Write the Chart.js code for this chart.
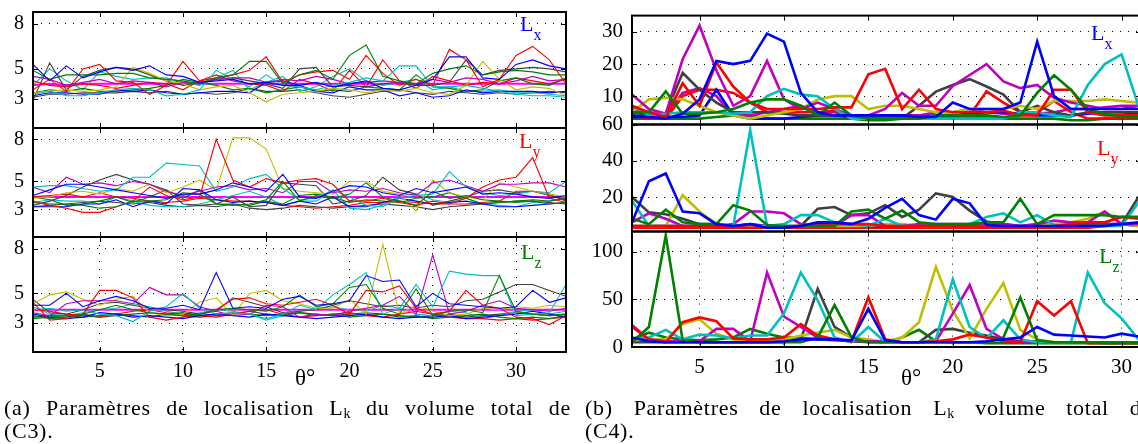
<!DOCTYPE html>
<html>
<head>
<meta charset="utf-8">
<script src="https://cdn.jsdelivr.net/npm/chart.js@4.4.1/dist/chart.umd.min.js"></script>
<style>
  html, body { margin: 0; padding: 0; }
  body { width: 1138px; height: 444px; overflow: hidden; position: relative; background: #fff; font-family: "Liberation Serif", "Times New Roman", Times, "DejaVu Serif", serif; color: #000; }
  canvas { position: absolute; left: 0; top: 0; }
  .lab { position: absolute; line-height: 1; white-space: nowrap; }
  .lab .L { font-size: 22px; }
  .lab .s { font-size: 16px; position: relative; top: 9px; }
  .theta { position: absolute; font-size: 23px; line-height: 1; }
  .cap { position: absolute; font-size: 22px; letter-spacing: 0.7px; line-height: 23px; width: 567px; text-align: justify; text-align-last: justify; }
  .cap2 { position: absolute; font-size: 22px; letter-spacing: 0.7px; line-height: 23px; }
  .cap sub { font-size: 14px; vertical-align: -3px; line-height: 0; letter-spacing: 0; }
</style>
</head>
<body>
<canvas id="c3x"></canvas>
<canvas id="c3y"></canvas>
<canvas id="c3z"></canvas>
<canvas id="c4x"></canvas>
<canvas id="c4y"></canvas>
<canvas id="c4z"></canvas>

<div class="lab" style="left:520px;top:13px;color:#0000ff"><span class="L">L</span><span class="s">x</span></div>
<div class="lab" style="left:519px;top:130px;color:#ff0000"><span class="L">L</span><span class="s">y</span></div>
<div class="lab" style="left:521px;top:241px;color:#008000"><span class="L">L</span><span class="s">z</span></div>
<div class="lab" style="left:1091px;top:22px;color:#0000ff"><span class="L">L</span><span class="s">x</span></div>
<div class="lab" style="left:1097px;top:137px;color:#ff0000"><span class="L">L</span><span class="s">y</span></div>
<div class="lab" style="left:1099px;top:245px;color:#008000"><span class="L">L</span><span class="s">z</span></div>

<div class="theta" style="left:295px;top:366px">θ°</div>
<div class="theta" style="left:901px;top:366px">θ°</div>

<div class="cap" style="left:4px;top:396px">(a) Paramètres de localisation L<sub>k</sub> du volume total de</div>
<div class="cap2" style="left:4px;top:419px">(C3).</div>
<div class="cap" style="left:585px;top:396px">(b) Paramètres de localisation L<sub>k</sub> volume total de</div>
<div class="cap2" style="left:585px;top:419px">(C4).</div>

<script>
// θ positions (degrees) and tick values
const thetaC3 = [1,2,3,4,5,6,7,8,9,10,11,12,13,14,15,16,17,18,19,20,21,22,23,24,25,26,27,28,29,30,31,32,33];
const thetaC4 = [1,2,3,4,5,6,7,8,9,10,11,12,13,14,15,16,17,18,19,20,21,22,23,24,25,26,27,28,29,30,31,32];
const xTicks = [5, 10, 15, 20, 25, 30];
const yTicksC3 = [3, 5, 8];
const yTicksC4x = [10, 20, 30];
const yTicksC4y = [20, 40, 60];
const yTicksC4z = [0, 50, 100];

// (C3) L_x — one row per curve
const c3Lx = [
  [5.3,4.2,5.2,4.4,4.8,5.1,4.9,5.2,4.6,4.5,4.1,4.2,4.3,4.0,4.1,3.9,3.9,4.1,3.8,4.0,4.2,3.7,3.6,3.9,4.3,5.8,5.8,4.4,4.3,5.3,5.6,5.2,5.0],
  [4.9,4.3,4.6,4.6,4.6,4.7,4.7,4.4,4.3,4.2,4.0,4.4,4.6,5.5,5.5,4.0,4.6,4.9,4.3,5.9,6.6,4.5,4.2,4.0,4.7,5.0,5.2,4.6,4.8,4.9,4.8,4.6,4.6],
  [3.6,4.3,3.5,5.0,5.3,4.2,4.1,3.3,3.9,5.5,4.2,4.4,4.6,4.9,5.8,4.1,4.6,4.8,4.9,4.3,5.9,4.7,3.9,4.3,3.9,6.3,5.6,3.8,4.3,5.9,6.5,5.6,4.0],
  [3.3,3.5,3.2,3.2,3.4,3.6,3.7,3.6,3.2,3.3,3.6,4.9,4.3,3.8,4.6,3.9,3.8,3.6,3.9,4.1,4.4,4.2,5.2,5.2,3.8,3.8,3.9,3.7,3.5,3.3,3.2,3.2,3.1],
  [4.5,4.3,3.9,4.1,4.3,4.0,4.2,4.1,3.8,4.1,4.0,4.3,4.4,4.4,4.1,4.3,4.2,4.5,4.3,4.0,4.1,4.2,4.1,4.0,4.3,4.1,4.4,4.3,4.0,4.2,4.5,4.2,4.3],
  [3.4,3.5,3.6,3.5,3.6,3.8,5.1,4.7,4.2,4.0,3.6,3.8,3.9,3.4,2.8,3.3,3.4,3.5,3.7,3.6,3.4,3.6,3.5,3.7,3.4,3.3,3.9,5.5,4.3,3.6,3.8,3.7,3.2],
  [2.9,5.4,3.6,4.5,4.9,5.1,5.0,4.6,4.2,3.9,4.1,4.3,4.4,4.2,4.0,3.7,5.0,5.1,3.8,3.9,3.8,4.0,4.1,3.9,3.9,4.1,5.6,4.6,4.9,5.0,5.1,5.0,4.8],
  [3.2,3.4,3.4,3.3,3.3,3.6,3.5,3.6,3.4,3.3,3.4,3.5,3.5,3.4,4.1,4.2,3.9,3.5,3.4,3.8,3.6,3.6,3.2,3.4,3.1,3.2,3.6,3.4,3.5,3.5,3.5,3.4,3.5],
  [3.4,3.6,3.5,3.7,3.5,3.5,3.6,3.7,3.9,4.3,4.1,3.9,3.6,3.7,3.4,3.6,3.8,3.5,3.6,3.5,3.8,3.7,3.6,4.6,3.8,3.7,3.5,3.6,4.2,4.4,4.0,3.9,4.4],
  [4.2,3.9,3.8,4.0,3.9,3.7,3.9,4.1,4.0,3.6,4.2,4.6,4.2,4.0,3.9,3.5,4.3,4.0,3.5,4.9,3.8,5.6,4.2,3.7,4.5,4.2,3.9,4.1,4.0,4.4,4.2,4.0,4.3],
  [3.9,5.0,4.2,3.6,4.8,4.5,4.3,4.4,4.4,4.1,3.9,4.4,4.9,3.6,4.1,4.5,3.5,3.8,4.5,5.0,4.2,3.9,4.1,4.3,3.6,3.8,3.5,3.5,3.6,3.4,3.4,3.3,3.2],
  [3.1,3.3,3.3,3.4,3.4,3.4,3.5,3.4,3.5,3.3,3.4,3.3,3.4,3.7,3.5,3.5,3.6,3.4,3.2,3.1,3.3,3.5,3.6,3.4,3.3,3.5,3.4,3.3,3.4,3.3,3.4,3.5,3.4]
];
const c3LxMean = [3.9,4.0,3.9,4.0,4.0,4.0,4.0,4.0,4.0,4.0,4.0,4.0,4.0,4.0,4.0,4.0,4.0,4.0,4.0,4.0,4.0,4.0,4.0,4.0,4.0,4.0,4.0,4.0,4.0,4.0,4.0,4.0,4.0];

// (C3) L_y
const c3Ly = [
  [4.0,4.4,4.8,4.8,4.6,4.4,4.2,4.0,3.8,4.1,4.1,4.4,4.9,4.6,4.3,5.5,3.9,3.8,4.3,4.7,4.6,4.2,4.0,4.5,4.2,4.4,4.6,4.1,4.2,4.1,3.9,3.8,4.0],
  [3.5,3.4,3.4,3.3,3.1,3.2,3.6,3.6,3.7,4.2,4.1,3.4,3.3,3.4,3.7,5.0,3.6,4.0,3.8,4.1,4.9,3.9,3.6,3.3,4.3,3.8,4.0,3.7,3.6,3.5,3.6,3.4,3.5],
  [3.6,3.3,3.1,2.8,2.8,3.2,3.6,4.6,4.0,3.7,3.9,8.0,5.1,4.6,5.2,4.9,5.1,5.2,4.8,3.6,3.6,3.8,3.5,3.3,3.6,3.4,3.8,4.6,5.1,5.3,6.7,3.8,3.5],
  [4.6,4.7,4.7,4.5,4.3,4.4,5.3,5.3,6.3,6.2,6.1,4.3,4.6,5.2,5.5,4.5,3.7,3.8,4.4,3.9,3.3,3.2,3.8,4.0,4.1,5.7,4.6,4.2,4.0,4.1,4.3,4.2,5.0],
  [4.6,4.2,5.3,4.8,4.9,4.7,5.0,4.8,4.3,4.0,4.3,4.6,4.7,4.4,4.5,4.2,5.0,5.0,4.2,4.4,4.3,4.5,4.2,4.0,4.9,5.1,4.7,4.3,4.8,4.8,4.9,4.9,4.6],
  [3.8,3.9,4.2,4.3,4.1,4.5,4.3,4.8,4.2,4.6,5.1,4.4,8.1,8.1,7.3,4.5,4.3,4.2,4.1,5.0,5.0,4.3,4.1,2.9,5.1,4.2,3.9,3.7,4.9,4.6,4.3,4.1,3.9],
  [3.3,3.6,4.0,4.6,5.1,5.5,5.1,4.8,4.4,3.4,3.3,3.4,3.9,3.2,3.3,4.9,4.8,4.7,3.4,3.6,4.0,5.3,4.4,4.1,3.3,3.6,3.9,4.3,4.4,4.2,4.3,4.0,3.7],
  [3.2,3.2,3.2,3.4,3.4,3.7,3.2,3.6,3.4,4.5,4.4,3.7,3.5,3.6,3.5,3.3,3.6,3.4,3.9,3.2,3.2,3.5,3.8,3.6,3.4,3.5,3.6,3.4,3.2,3.2,3.3,3.4,3.5],
  [3.9,3.7,3.3,3.4,3.6,3.9,3.5,3.9,4.4,3.8,4.4,3.4,3.4,3.3,3.6,3.4,4.0,4.1,3.9,3.5,3.7,3.6,3.5,3.8,3.9,4.2,3.8,3.4,3.5,3.6,3.7,3.6,3.8],
  [3.9,4.0,4.1,3.9,4.2,3.9,3.8,3.6,3.5,3.6,3.8,3.7,3.6,3.6,3.5,3.3,3.2,3.1,3.2,3.3,3.5,3.5,3.6,3.5,3.4,3.4,3.4,3.5,3.6,4.3,4.3,4.1,3.6],
  [3.5,3.7,3.6,3.6,3.4,3.9,3.6,3.3,3.2,3.2,3.4,3.7,4.0,4.3,3.9,3.3,3.6,3.6,4.4,3.1,3.0,3.3,4.0,4.1,3.7,3.5,3.8,3.4,3.3,3.2,3.5,3.6,3.9],
  [3.2,3.3,3.4,3.5,3.6,3.5,3.4,3.5,3.3,3.2,3.3,3.2,3.4,3.1,3.0,3.1,3.3,3.2,3.1,3.2,3.3,3.4,3.3,3.2,3.0,3.2,3.3,3.4,3.5,3.6,3.6,3.5,3.4]
];
const c3LyMean = [3.9,3.9,3.9,3.9,3.9,3.9,3.9,3.9,3.9,3.9,3.9,3.9,3.9,3.9,3.9,3.9,3.9,3.9,3.9,3.9,3.9,3.9,3.9,3.9,3.9,3.9,3.9,3.9,3.9,3.9,3.9,3.9,3.9];

// (C3) L_z
const c3Lz = [
  [4.2,4.2,5.0,4.1,4.5,4.8,4.5,4.0,4.0,4.2,3.9,6.4,4.0,4.1,4.0,4.6,4.8,4.2,4.3,4.5,6.2,5.8,5.9,4.1,5.0,4.3,4.2,4.1,4.0,4.1,5.2,4.4,4.7],
  [3.5,3.3,3.4,3.6,3.9,4.2,3.9,3.7,3.6,3.5,3.6,3.9,4.0,3.9,3.8,4.1,4.9,4.1,4.3,5.4,5.6,4.0,3.6,5.3,3.5,3.8,3.9,3.7,6.2,3.8,3.6,3.5,3.6],
  [4.4,3.2,3.3,3.6,5.2,5.2,4.7,3.4,3.2,3.4,3.6,3.9,4.6,4.7,4.3,4.2,4.4,4.6,4.2,3.6,5.2,5.1,5.5,4.0,3.6,3.8,5.2,4.2,4.0,3.4,3.3,2.9,3.5],
  [3.9,4.0,3.8,3.9,3.6,3.5,3.1,3.8,4.1,5.0,4.0,3.6,3.7,3.6,3.3,3.6,4.2,3.9,4.9,5.6,6.4,3.6,4.0,5.6,4.1,6.5,6.3,6.2,6.2,3.5,3.6,3.7,5.6],
  [3.7,3.5,4.3,4.5,4.5,4.5,4.3,5.4,4.9,4.9,4.1,3.8,3.5,3.6,4.2,4.1,3.4,3.6,3.5,3.8,4.0,4.2,4.8,3.6,7.6,3.6,3.8,4.2,4.5,4.0,3.9,3.8,4.0],
  [4.3,4.9,5.1,4.6,4.2,4.6,4.8,3.7,3.5,3.6,4.4,4.7,3.5,5.0,5.2,4.5,4.3,4.0,4.0,4.6,3.6,8.3,3.6,4.2,3.8,3.5,3.6,4.0,3.9,4.1,4.0,4.2,4.1],
  [4.6,3.7,3.6,3.9,4.3,4.4,4.2,4.0,3.9,3.8,3.6,3.8,4.7,4.4,4.1,3.7,3.8,3.9,4.2,4.5,4.3,4.1,4.2,4.0,4.2,4.1,4.5,4.6,5.1,5.6,5.6,5.2,4.8],
  [3.6,3.4,3.3,3.4,3.7,3.6,3.4,3.5,3.4,3.3,3.5,3.6,3.5,3.4,3.6,3.5,3.4,3.3,3.4,3.5,3.6,3.4,3.3,3.4,3.4,3.5,3.3,3.4,3.5,3.6,3.8,3.6,3.4],
  [3.3,3.4,3.5,3.4,3.5,3.6,3.5,3.4,3.6,3.7,3.5,3.6,3.7,3.6,3.5,3.6,3.7,3.5,3.6,3.4,3.5,3.6,3.4,3.5,3.3,3.4,3.5,3.6,3.4,3.3,3.4,3.3,3.5],
  [3.9,3.8,3.6,3.5,3.4,3.6,3.8,3.9,3.7,3.6,3.5,3.4,3.6,3.8,3.9,3.6,3.4,3.5,3.6,3.7,3.5,3.4,3.6,3.8,3.6,3.4,3.3,3.3,3.2,3.3,3.2,3.3,3.4],
  [4.1,3.6,3.5,3.7,3.9,4.0,4.3,4.1,3.8,3.6,3.7,3.9,3.8,3.6,3.2,3.5,3.8,4.0,4.1,3.9,3.8,4.2,4.0,3.6,3.5,3.8,3.7,3.3,3.5,3.8,3.9,3.6,3.8],
  [3.4,3.5,3.5,3.6,3.4,3.5,3.6,3.7,3.6,3.5,3.4,3.5,3.6,3.8,3.6,3.5,3.7,3.6,3.5,3.6,3.7,3.6,3.5,3.4,3.5,3.6,3.4,3.5,3.6,3.7,3.6,3.5,3.6]
];
const c3LzMean = [3.9,3.9,3.9,3.9,3.9,3.9,3.9,3.9,3.9,3.9,3.9,3.9,3.9,3.9,3.9,3.9,3.9,3.9,3.9,3.9,3.9,3.9,3.9,3.9,3.9,3.9,3.9,3.9,3.9,3.9,3.9,3.9,3.9];

// (C4) L_x
const c4Lx = [
  [3.5,3.5,3.0,4.5,9,21,20,21,29.5,27,11,5,4,4,4,4,4,3.5,3.5,8,6,6,6,8,27,10,6,6,6,6,6,5],
  [5,5,11.5,4.5,4.5,5,6,8,9,9,7,4,8,4,3,3,3,3,4,4,4,4,3.5,4,11,16.5,12,6,4.5,3.5,3.5,4],
  [7,5,3.5,14,7,20.5,13,8,6,6,6,6,6.5,6.5,16.8,18.5,6,12,6,5,5,5,5.5,4,4,12,12,5,4,4,4,6],
  [7,4,4.5,5,5,5,4.5,5,10,12.3,10.5,10,6,3,3,3,3,3,3,3,3,3,3,5,5,4,3.5,13.5,20,23,7,5],
  [10.5,6,4.5,21.5,32,18,7,10,21,9,6,8,6,4,4,6,11,7,7,13.2,16.6,20,14.6,12.5,13.5,9.5,8,7,6,6,7,9],
  [5,9,9.5,9,7,5,4,3,4,5,6,9,10,10,6,7,7,6,5,5,6,6,6,7,6,8.5,8.5,8.5,9,8.5,8,8],
  [5,4,4.5,17.3,12,8,5,5,5,4.5,4,4,4,4,4,3.5,3,7,11.4,13.5,15.3,13,10.5,5,7,5,4,5,5,5,5,5],
  [4,3.5,3.5,3.5,4,12,4,3,3,3,3.5,4,4,3.5,3.5,3.5,3.5,3.5,4,4,4.5,5,5,4.5,4,4,4,4.5,5,5,4.5,4],
  [4,3,3,10,12,12,11,8,5,5,5,5,5.5,3,3,3,3,3,3.5,3.5,4,11.5,8,5,5,8.5,5,3,3,3,3.5,4],
  [6,5,4,11,12.5,10,4,4,5,6,7,5,5,4,4,4,4,4,5,5,6,5,4.5,4.5,4.5,5,6,6,6.5,7,7,8],
  [3,3,3,3,3,3.5,4,4,3,3,3,3,3,3,2.5,2.5,3,3,3,3,3.5,3.5,3,3,3,3,2.5,2.5,3,3,3,3]
];

// (C4) L_y
const c4Ly = [
  [6,28.7,33,12,11,5,4,5,3,3,4,6,6,5,8,14,19,10,7.5,19,16.5,4.5,4,4,4,4,4,4,4,5,6,5],
  [8,5,13,6,5,5,15.5,12.5,4.5,4,4,4,4,12,13,8,12.5,6,5,5,5,6,6,19,5,10,10,10,10,9,9,9],
  [4,4,4,4,4,4,3.5,3,3,3.5,4,4,5,5,5,4,4,4,4,4,4,3.5,3,3,3.5,4,5,6,6,9,8,6],
  [18,4,4,4,4,4,4,57,4,5,10,10,6,5,4,8,4,4,4,4,5,9,11,6,10,4.5,4,4,4,4,17,17],
  [6,11,8,4,4,4,5,12,12,11,5,4,4,10,10,4,4,5,5,5,5,5,5,4,5,7,6,6,12,5,5,5],
  [4,4,4,21,12,5,4,4,4,4,4,4,4,4,4,5,5,4,4,4,4,4,4,4,5,5,6,8,12,5,4,4],
  [20,11.5,10.5,8,5,5,4,3,3,3,4,13.5,14.5,10,11,15.5,9,13,22,20,12.5,6.5,5,4,4,4,5,5,5,5,20,22],
  [4,4,4,4,4,4,4,5,4,4,4,5,5,5,4,4,4,4,4,4,4,4,4,4,4,5,5,5,5,5,4,4],
  [3,3,3,3,3,3,3,3,3,3,3,3,3,3,3,3,3,3,3,3,3,3,3,3,3,3,3,3,4,5,5,4]
];

// (C4) L_z
const c4Lz = [
  [10,6,5,5,5,5,5,5,5,6,8,8,8,7,40,7,5,5,5,5,5,6,8,10,21,13,12,11,10,14,11,10],
  [5,21,117,7,5,5,5,5,5,5,5,10,44,10,5,5,5,5,5,5,5,5,10,52,7,5,5,5,4,4,4,4],
  [21,8,5,26,31,27,9,8,8,10,24,12,8,6,52,8,5,5,6,8,13,10,6,5,48,33,48,4,4,4,4,5],
  [8,10,18,8,13,12,9,12,12,35,78,49,10,5,21,5,5,5,8,71,21,9,28,8,5,5,5,78,46,30,8,5],
  [23,8,6,6,6,19,19,6,78,32,21,10,8,6,6,6,5,5,6,35,65,19,8,5,5,5,5,5,5,5,5,20],
  [7,8,8,24,29,14,8,6,6,8,12,15,18,10,8,5,10,26,84,38,9,40,67,18,8,5,5,5,5,5,5,5],
  [5,5,5,5,5,5,5,5,5,5,8,61,21,10,6,5,5,5,18,19,15,12,8,6,6,5,5,5,5,5,5,5],
  [8,15,10,8,7,8,10,19,14,10,10,8,7,6,5,5,10,18,6,5,5,4,4,4,4,4,4,4,4,4,4,4]
];

const BLUE = '#0000ff', GREEN = '#008000', RED = '#ff0000', CYAN = '#00bfbf',
      MAGENTA = '#bf00bf', YELLOW = '#bfbf00', GRAY = '#404040', PINK = '#ff00ff';
const c3Colors = [BLUE, GREEN, RED, CYAN, MAGENTA, YELLOW, GRAY, BLUE, GREEN, RED, CYAN, GRAY];
const c4xColors = [BLUE, GREEN, RED, CYAN, MAGENTA, YELLOW, GRAY, BLUE, RED, MAGENTA, GREEN];
const c4yColors = [BLUE, GREEN, RED, CYAN, MAGENTA, YELLOW, GRAY, BLUE, RED];
const c4zColors = [BLUE, GREEN, RED, CYAN, MAGENTA, YELLOW, GRAY, GREEN];
const SERIF = '"Liberation Serif", "Times New Roman", Times, "DejaVu Serif", serif';

function frame(yTicks) {
  // box around the plot area plus short inward ticks, as in MATLAB
  return {
    id: 'frame',
    afterDraw(chart) {
      const { ctx, chartArea: a, scales } = chart;
      ctx.save();
      ctx.strokeStyle = '#000';
      ctx.lineWidth = 1;
      ctx.beginPath();
      yTicks.forEach((v) => {
        const y = Math.round(scales.y.getPixelForValue(v)) + 0.5;
        ctx.moveTo(a.left, y); ctx.lineTo(a.left + 5, y);
        ctx.moveTo(a.right, y); ctx.lineTo(a.right - 5, y);
      });
      xTicks.forEach((v) => {
        const x = Math.round(scales.x.getPixelForValue(v)) + 0.5;
        ctx.moveTo(x, a.top); ctx.lineTo(x, a.top + 5);
        ctx.moveTo(x, a.bottom); ctx.lineTo(x, a.bottom - 5);
      });
      ctx.stroke();
      ctx.lineWidth = 2;
      ctx.strokeRect(a.left, a.top, a.right - a.left, a.bottom - a.top);
      ctx.restore();
    },
  };
}

function buildConfig(p) {
  const datasets = p.series.map((ys, i) => ({
    data: ys.map((y, j) => ({ x: p.theta[j], y })),
    borderColor: p.colors[i],
    borderWidth: p.lw,
    pointRadius: 0,
    tension: 0,
    fill: false,
  }));
  if (p.mean) {
    datasets.push({
      data: p.mean.map((y, j) => ({ x: p.theta[j], y })),
      borderColor: PINK, borderWidth: 2, pointRadius: 0, tension: 0, fill: false,
    });
  }
  const font = { family: SERIF, size: p.fontSize };
  return {
    type: 'line',
    data: { datasets },
    plugins: [frame(p.yTicks)],
    options: {
      responsive: false,
      animation: false,
      events: [],
      layout: { padding: 4 },
      plugins: { legend: { display: false }, tooltip: { enabled: false } },
      scales: {
        x: {
          type: 'linear', min: 1, max: p.xMax,
          afterBuildTicks: (s) => { s.ticks = xTicks.map((v) => ({ value: v })); },
          afterFit: (s) => { s.height = p.showX ? 30 : 0; },
          grid: { display: p.showX, color: '#000', lineWidth: 1, drawTicks: false },
          border: { display: false, dash: [1, 7] },
          ticks: { display: p.showX, color: '#000', font, padding: 8, maxRotation: 0 },
        },
        y: {
          type: 'linear', min: p.yMin, max: p.yMax,
          afterBuildTicks: (s) => { s.ticks = p.yTicks.map((v) => ({ value: v })); },
          afterFit: (s) => { s.width = p.yW; },
          grid: { color: '#000', lineWidth: 1, drawTicks: false },
          border: { display: false, dash: [1, 7] },
          ticks: { color: '#000', font, padding: 9 },
        },
      },
    },
  };
}

// Mount once to learn the margins round the plot area, then size and place the
// canvas so that the plot area lands on the given page box.
function mountPanel(id, p, box) {
  const canvas = document.getElementById(id);
  const bw = box.right - box.left, bh = box.bottom - box.top;
  canvas.width = bw + 100;
  canvas.height = bh + 80;
  let chart = new Chart(canvas, buildConfig(p));
  const a = chart.chartArea;
  const padL = a.left, padT = a.top, padR = canvas.width - a.right, padB = canvas.height - a.bottom;
  chart.destroy();
  canvas.width = Math.round(padL + bw + padR);
  canvas.height = Math.round(padT + bh + padB);
  chart = new Chart(canvas, buildConfig(p));
  canvas.style.left = Math.round(box.left - chart.chartArea.left) + 'px';
  canvas.style.top = Math.round(box.top - chart.chartArea.top) + 'px';
}

const c3 = { theta: thetaC3, colors: c3Colors, lw: 1.1, xMax: 33, yMin: 1.05, yMax: 8.8, yTicks: yTicksC3, yW: 33, fontSize: 20 };
mountPanel('c3x', { ...c3, series: c3Lx, mean: c3LxMean, showX: false }, { left: 33, top: 12, right: 566, bottom: 128 });
mountPanel('c3y', { ...c3, series: c3Ly, mean: c3LyMean, showX: false }, { left: 33, top: 128, right: 566, bottom: 237 });
mountPanel('c3z', { ...c3, series: c3Lz, mean: c3LzMean, showX: true }, { left: 33, top: 237, right: 566, bottom: 352 });

const c4 = { theta: thetaC4, lw: 2.6, xMax: 31.15, yW: 50, fontSize: 21 };
mountPanel('c4x', { ...c4, colors: c4xColors, series: c4Lx, yMin: 1.2, yMax: 35.1, yTicks: yTicksC4x, showX: false }, { left: 632, top: 16, right: 1141, bottom: 125 });
mountPanel('c4y', { ...c4, colors: c4yColors, series: c4Ly, yMin: 1, yMax: 60, yTicks: yTicksC4y, showX: false }, { left: 632, top: 125, right: 1141, bottom: 232 });
mountPanel('c4z', { ...c4, colors: c4zColors, series: c4Lz, yMin: 0, yMax: 121, yTicks: yTicksC4z, showX: true }, { left: 632, top: 232, right: 1141, bottom: 347 });
</script>
</body>
</html>
